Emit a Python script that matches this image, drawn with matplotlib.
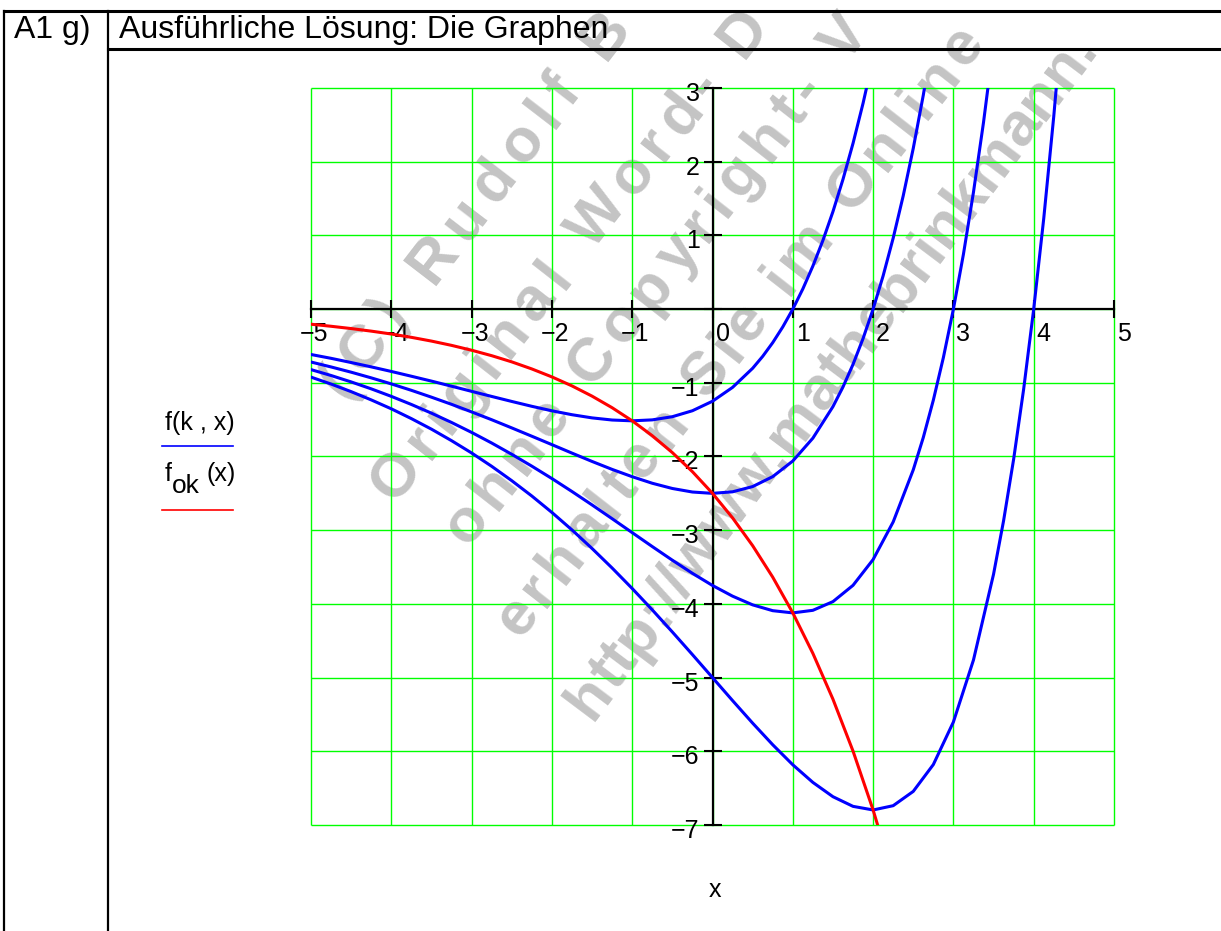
import math
import matplotlib
matplotlib.use("Agg")
import matplotlib.pyplot as plt
from matplotlib.lines import Line2D

plt.rcParams['font.family'] = ['Liberation Sans', 'DejaVu Sans']

W, H = 1221, 931

# curves f(k, x) for k = 1..4
x_k1 = [-5, -4.75, -4.5, -4.25, -4, -3.75, -3.5, -3.25, -3, -2.75, -2.5, -2.25, -2, -1.75, -1.5,
        -1.25, -1, -0.75, -0.5, -0.25, 0, 0.25, 0.5, 0.625, 0.75, 0.875, 1, 1.125, 1.25, 1.375,
        1.5, 1.625, 1.75, 1.875, 2]
y_k1 = [-0.616, -0.668, -0.725, -0.784, -0.846, -0.911, -0.977, -1.046, -1.116, -1.185, -1.253,
        -1.319, -1.380, -1.433, -1.476, -1.505, -1.516, -1.503, -1.460, -1.379, -1.25, -1.062,
        -0.803, -0.641, -0.455, -0.242, 0, 0.274, 0.584, 0.932, 1.323, 1.761, 2.249, 2.793, 3.398]

x_k2 = [-5, -4.75, -4.5, -4.25, -4, -3.75, -3.5, -3.25, -3, -2.75, -2.5, -2.25, -2, -1.75, -1.5,
        -1.25, -1, -0.75, -0.5, -0.25, 0, 0.25, 0.5, 0.75, 1, 1.25, 1.5, 1.625, 1.75, 1.875, 2,
        2.125, 2.25, 2.375, 2.5, 2.625, 2.75]
y_k2 = [-0.718, -0.785, -0.856, -0.933, -1.015, -1.102, -1.195, -1.292, -1.395, -1.501, -1.612,
        -1.725, -1.839, -1.954, -2.067, -2.175, -2.274, -2.363, -2.434, -2.482, -2.5, -2.479,
        -2.408, -2.273, -2.061, -1.751, -1.323, -1.056, -0.750, -0.399, 0, 0.452, 0.963, 1.537,
        2.181, 2.903, 3.708]

x_k3 = [-5, -4.75, -4.5, -4.25, -4, -3.75, -3.5, -3.25, -3, -2.75, -2.5, -2.25, -2, -1.75, -1.5,
        -1.25, -1, -0.75, -0.5, -0.25, 0, 0.25, 0.5, 0.75, 1, 1.25, 1.5, 1.75, 2, 2.25, 2.5,
        2.625, 2.75, 2.875, 3, 3.125, 3.25, 3.375, 3.5]
y_k3 = [-0.821, -0.901, -0.988, -1.082, -1.184, -1.294, -1.412, -1.538, -1.673, -1.817, -1.970,
        -2.131, -2.299, -2.475, -2.657, -2.844, -3.033, -3.222, -3.407, -3.585, -3.75, -3.895,
        -4.013, -4.092, -4.122, -4.087, -3.969, -3.748, -3.398, -2.888, -2.181, -1.742, -1.236,
        -0.658, 0, 0.745, 1.587, 2.534, 3.597]

x_k4 = [-5, -4.75, -4.5, -4.25, -4, -3.75, -3.5, -3.25, -3, -2.75, -2.5, -2.25, -2, -1.75, -1.5,
        -1.25, -1, -0.75, -0.5, -0.25, 0, 0.25, 0.5, 0.75, 1, 1.25, 1.5, 1.75, 2, 2.25, 2.5, 2.75,
        3, 3.25, 3.5, 3.625, 3.75, 3.875, 4, 4.125, 4.25, 4.375, 4.5]
y_k4 = [-0.923, -1.017, -1.120, -1.232, -1.353, -1.486, -1.629, -1.785, -1.952, -2.133, -2.328,
        -2.536, -2.759, -2.996, -3.248, -3.513, -3.791, -4.081, -4.381, -4.688, -5.0, -5.312,
        -5.618, -5.911, -6.183, -6.422, -6.616, -6.747, -6.796, -6.738, -6.544, -6.180, -5.602,
        -4.761, -3.597, -2.871, -2.038, -1.085, 0, 1.229, 2.617, 4.178, 5.930]

# locus of the minima f_ok(x)
x_ok = [-5, -4.75, -4.5, -4.25, -4, -3.75, -3.5, -3.25, -3, -2.75, -2.5, -2.25, -2, -1.75, -1.5,
        -1.25, -1, -0.75, -0.5, -0.25, 0, 0.25, 0.5, 0.75, 1, 1.25, 1.5, 1.75, 2, 2.25]
y_ok = [-0.205, -0.233, -0.264, -0.299, -0.338, -0.383, -0.434, -0.492, -0.558, -0.632, -0.716,
        -0.812, -0.920, -1.042, -1.181, -1.338, -1.516, -1.718, -1.947, -2.206, -2.5, -2.833,
        -3.210, -3.637, -4.122, -4.671, -5.293, -5.997, -6.796, -7.701]

x_ticks = [-5, -4, -3, -2, -1, 0, 1, 2, 3, 4, 5]
y_ticks = [3, 2, 1, 0, -1, -2, -3, -4, -5, -6, -7]
y_labels = [3, 2, 1, -1, -2, -3, -4, -5, -6, -7]

# watermark lines (visible part), first and last letter position in pixels
wm_text = ["(C) Rudolf B", "Original Word- D", "ohne Copyright- V",
           "erhalten Sie im Online", "http://www.mathebrinkmann."]
wm_from = [(345, 400), (395, 505), (468, 548), (520, 640), (592, 722)]
wm_to = [(605, 62), (743, 60), (846, 65), (965, 70), (1088, 62)]

# advance widths of Arial / Liberation Sans Bold, 1/1000 em
adv = {' ': 278, '(': 333, ')': 333, '-': 333, '.': 278, ':': 333, '/': 278,
       'C': 722, 'R': 722, 'B': 722, 'O': 778, 'W': 944, 'D': 722, 'V': 667, 'S': 667,
       'a': 556, 'b': 611, 'c': 556, 'd': 611, 'e': 556, 'f': 333, 'g': 611, 'h': 611,
       'i': 278, 'k': 556, 'l': 278, 'm': 889, 'n': 611, 'o': 611, 'p': 611, 'r': 389,
       's': 556, 't': 333, 'u': 611, 'w': 778, 'y': 556}


def fx(x):
    return x / W


def fy(y):
    return 1 - y / H


fig = plt.figure(figsize=(W / 100, H / 100), dpi=100)

# plot area in pixels: x -5..5 -> 311..1114, y 3..-7 -> 88..825
ax = fig.add_axes([fx(311), fy(825), (1114 - 311) / W, (825 - 88) / H])
ax.set_facecolor('none')
ax.set_xlim(-5, 5)
ax.set_ylim(-7, 3)
ax.axis('off')

ax.vlines(x_ticks, -7, 3, colors='#00ff00', lw=1.0, clip_on=False, zorder=1)
ax.hlines(y_ticks, -5, 5, colors='#00ff00', lw=1.0, clip_on=False, zorder=1)

ax.plot([-5, 5], [0, 0], color='k', lw=1.6, zorder=2, clip_on=False)
ax.plot([0, 0], [-7, 3], color='k', lw=1.6, zorder=2, clip_on=False)
ax.plot(x_ticks, [0] * len(x_ticks), ls='none', marker='|', ms=13, mew=1.5, color='k',
        clip_on=False, zorder=2)
ax.plot([0] * len(y_ticks), y_ticks, ls='none', marker='_', ms=13, mew=1.5, color='k',
        clip_on=False, zorder=2)

for t in x_ticks:
    s = str(t).replace('-', '\u2212')
    dx = -11 if t < 0 else 3
    ax.annotate(s, (t, 0), xytext=(dx, -32), textcoords='offset pixels', ha='left',
                va='baseline', fontsize=18, annotation_clip=False)
for t in y_labels:
    s = str(t).replace('-', '\u2212')
    ax.annotate(s, (0, t), xytext=(-13, -13), textcoords='offset pixels', ha='right',
                va='baseline', fontsize=18, annotation_clip=False)

for xs, ys in [(x_k1, y_k1), (x_k2, y_k2), (x_k3, y_k3), (x_k4, y_k4)]:
    ax.plot(xs, ys, color='#0000ff', lw=2.2, zorder=3)
ax.plot(x_ok, y_ok, color='#ff0000', lw=2.2, zorder=4)

# watermark behind the plot, letters spread evenly between the two end points
wm_size = 44
em = wm_size * 100 / 72
for s, (x0, y0), (x1, y1) in zip(wm_text, wm_from, wm_to):
    length = math.hypot(x1 - x0, y1 - y0)
    ux, uy = (x1 - x0) / length, (y1 - y0) / length
    ang = math.degrees(math.atan2(y0 - y1, x1 - x0))
    natural = sum(adv[c] for c in s[:-1]) / 1000 * em
    gap = max(0.0, (length - natural) / (len(s) - 1))
    pos = 0.0
    for c in s:
        if c != ' ':
            fig.text(fx(x0 + ux * pos), fy(y0 + uy * pos), c, rotation=ang,
                     rotation_mode='anchor', ha='left', va='baseline', fontsize=wm_size,
                     fontweight='bold', color='#c4c4c4', zorder=-1)
        pos += adv[c] / 1000 * em + gap

# table frame
for (x0, y0, x1, y1, w) in [(4, 11, W, 11, 2.2), (108, 49, W, 49, 2.2),
                            (4, 11, 4, H, 1.6), (108, 11, 108, H, 1.6)]:
    fig.add_artist(Line2D([fx(x0), fx(x1)], [fy(y0), fy(y1)], color='k', lw=w, zorder=5))

fig.text(fx(14), fy(38), "A1 g)", fontsize=23, va='baseline')
fig.text(fx(119), fy(38), "Ausführliche Lösung: Die Graphen", fontsize=23, va='baseline')

# legend
fig.text(fx(165), fy(430), "f(k , x)", fontsize=18, va='baseline')
fig.add_artist(Line2D([fx(162), fx(233)], [fy(446), fy(446)], color='#0000ff', lw=1.2))
fig.text(fx(165), fy(481), "f", fontsize=18, va='baseline')
fig.text(fx(172), fy(493), "ok", fontsize=19, va='baseline')
fig.text(fx(206), fy(481), "(x)", fontsize=18, va='baseline')
fig.add_artist(Line2D([fx(162), fx(233)], [fy(510), fy(510)], color='#ff0000', lw=1.2))

fig.text(fx(715), fy(897), "x", fontsize=18, va='baseline', ha='center')

fig.savefig('out.png', dpi=100)
